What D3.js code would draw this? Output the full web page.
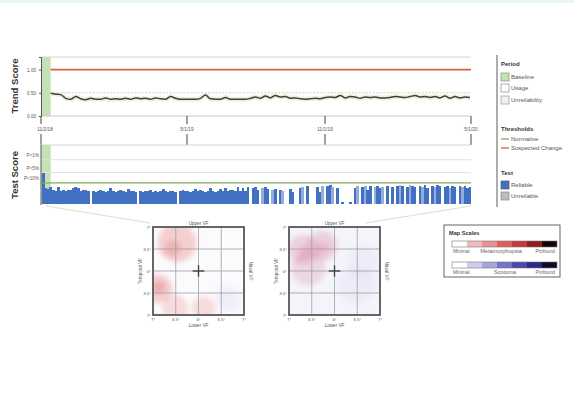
<!DOCTYPE html>
<html>
<head>
<meta charset="utf-8">
<script src="https://cdn.jsdelivr.net/npm/d3@7"></script>
<style>
body{margin:0;background:#fff;}
svg{display:block;font-family:Arial,"Liberation Sans",sans-serif;}
</style>
</head>
<body>
<svg id="chart" width="574" height="413"></svg>
<script>
// ---- data ----
const dateTicks = ["2018-11-02", "2019-05-01", "2019-11-01", "2020-05-01"];
const dateLabels = ["11/2/18", "5/1/19", "11/1/19", "5/1/20"];
const baselinePeriod = ["2018-11-02", "2018-11-14"];

const trendTicks = [0, 0.5, 1];
const trendTickLabels = ["0.00", "0.50", "1.00"];
const suspectedChange = 1.0;
const normativeTrend = 0.5;
const trendValues = [
  0.49, 0.47, 0.46, 0.38, 0.36, 0.42, 0.37, 0.35, 0.38, 0.36,
  0.36, 0.39, 0.36, 0.37, 0.36, 0.38, 0.36, 0.39, 0.37, 0.38,
  0.36, 0.39, 0.37, 0.36, 0.42, 0.38, 0.36, 0.36, 0.36, 0.36,
  0.38, 0.45, 0.37, 0.36, 0.36, 0.40, 0.36, 0.36, 0.36, 0.36,
  0.38, 0.41, 0.38, 0.43, 0.39, 0.44, 0.41, 0.42, 0.38, 0.39,
  0.37, 0.36, 0.37, 0.38, 0.37, 0.40, 0.41, 0.40, 0.44, 0.39,
  0.42, 0.41, 0.38, 0.41, 0.40, 0.41, 0.39, 0.39, 0.40, 0.42,
  0.41, 0.40, 0.42, 0.44, 0.41, 0.42, 0.40, 0.42, 0.39, 0.43,
  0.38, 0.42, 0.39, 0.41, 0.40
];

const pLevels = ["P<1%", "P<5%", "P<10%"];
const pLevelValues = [2.25, 1.6, 1.07];
const testScores = [
  1.6, 0.8, 0.75, 0.85, 0.7, 0.65, 0.85, 0.65, 0.7, 0.65,
  0.7, 0.7, 0.8, 0.85, 0.8, 0.65, 0.7, 0.7, 0.65, 0,
  0.65, 0.6, 0.65, 0.7, 0.65, 0.6, 0.65, 0.8, 0.65, 0.6,
  0.65, 0.7, 0.65, 0.6, 0.75, 0.65, 0.65, 0.6, 0, 0.65,
  0.6, 0.65, 0.65, 0.7, 0.6, 0.65, 0.6, 0.65, 0.75, 0.65,
  0.6, 0.65, 0.65, 0.6, 0, 0.65, 0.7, 0.65, 0.65, 0.6,
  0.65, 0.75, 0.65, 0.7, 0.65, 0.6, 0.65, 0.8, 0.65, 0.6,
  0.65, 0.75, 0.65, 0.8, 0.65, 0.7, 0.7, 0.65, 0.85, 0.65,
  0.8, 0.65, 0.85, 0, 0.8, 0.85, 0.7, 0, 0.8, 0.85,
  0.75, 0, 0.7, 0.75, 0, 0.7, 0.65, 0, 0, 0.75,
  0.6, 0, 0, 0.8, 0.85, 0, 0.9, 0, 0, 0,
  0.85, 0.6, 0.9, 0, 0.9, 0.95, 0.85, 0, 0.8, 0,
  0.1, 0, 0, 0.1, 0, 0.8, 0.9, 0, 0.85, 0.9,
  0.7, 0.9, 0, 0.85, 0.9, 0.8, 0.85, 0, 0.9, 0,
  0.85, 0, 0.9, 0.95, 0.9, 0, 0.85, 0.95, 0.9, 0.85,
  0, 0.9, 0.85, 0.95, 0.8, 0, 0.9, 0.85, 0.95, 0.9,
  0, 0.85, 0.9, 0.8, 0.9, 0.85, 0, 0.9, 0.85, 0.9,
  0.8, 0.85
];
const lightTests = [88, 92, 96, 104, 112, 116, 126, 129, 133, 136, 143, 147, 152, 157, 163, 168];

const mapTicks = [-7, -3.5, 0, 3.5, 7];
const mapTickLabels = ["7°", "3.5°", "0°", "3.5°", "7°"];
// blobs in degrees of visual field: x, y, radius, kind, strength
const leftEyeBlobs = [
  {x: -3.3, y: 4.5, r: 3.0, kind: "meta", s: 0.30},
  {x: -4.0, y: 3.6, r: 1.3, kind: "meta", s: 0.30},
  {x: -6.3, y: -2.8, r: 2.3, kind: "meta", s: 0.30},
  {x: -6.1, y: -2.6, r: 1.0, kind: "meta", s: 0.35},
  {x: -3.6, y: -5.9, r: 2.0, kind: "meta", s: 0.22},
  {x: 0.8, y: -5.9, r: 1.8, kind: "meta", s: 0.22},
  {x: 4.6, y: -4.5, r: 2.0, kind: "scot", s: 0.09}
];
const rightEyeBlobs = [
  {x: -4.8, y: 3.4, r: 2.3, kind: "both", s: 0.30},
  {x: -1.9, y: 4.0, r: 2.3, kind: "both", s: 0.30},
  {x: -4.0, y: 0.4, r: 2.6, kind: "both", s: 0.25},
  {x: -4.6, y: 3.0, r: 1.0, kind: "both", s: 0.30},
  {x: -1.8, y: 3.6, r: 1.0, kind: "both", s: 0.30},
  {x: 3.5, y: -2.3, r: 2.8, kind: "scot", s: 0.07},
  {x: 4.5, y: 1.5, r: 2.5, kind: "scot", s: 0.05}
];

const metaColors = ["#ffffff", "#f3bcbc", "#ec9090", "#e35f5f", "#c43a3a", "#8e1d1d", "#150606"];
const scotColors = ["#ffffff", "#cfcdee", "#a7a5de", "#7573c8", "#4a48ac", "#2a288a", "#0c0b2a"];
const scaleLabels = [["Minimal", "Metamorphopsia", "Profound"], ["Minimal", "Scotoma", "Profound"]];

// ---- setup ----
const svg = d3.select("#chart");
const parse = d3.timeParse("%Y-%m-%d");
const blue = "#4371c2";

svg.append("rect").attr("width", 574).attr("height", 3).attr("fill", "#e9f4f7");

const xTime = d3.scaleTime()
  .domain(dateTicks.map(parse))
  .range([41, 187, 325, 471]);
const yTrend = d3.scaleLinear().domain([0, 1.27]).range([116, 57]);
const yTest = d3.scaleLinear().domain([0, 3]).range([204, 145]);
const baseX0 = xTime(parse(baselinePeriod[0]));
const baseX1 = xTime(parse(baselinePeriod[1]));

// ---- trend panel ----
const trendG = svg.append("g");
trendG.append("rect")
  .attr("x", baseX0).attr("y", yTrend.range()[1])
  .attr("width", baseX1 - baseX0)
  .attr("height", yTrend.range()[0] - yTrend.range()[1])
  .attr("fill", "#c6e2b5");
trendG.append("line").attr("x1", 41).attr("x2", 471)
  .attr("y1", yTrend.range()[1]).attr("y2", yTrend.range()[1])
  .attr("stroke", "#d4d4d4");
trendG.append("line").attr("x1", 41).attr("x2", 471)
  .attr("y1", yTrend(0)).attr("y2", yTrend(0))
  .attr("stroke", "#c8c8c8");
trendG.append("line").attr("x1", baseX1).attr("x2", 471)
  .attr("y1", yTrend(normativeTrend)).attr("y2", yTrend(normativeTrend))
  .attr("stroke", "#eab0a8").attr("stroke-dasharray", "2,1.5").attr("stroke-width", 0.8);
trendG.append("line").attr("x1", baseX1).attr("x2", 471)
  .attr("y1", yTrend(suspectedChange)).attr("y2", yTrend(suspectedChange))
  .attr("stroke", "#dc5f3e").attr("stroke-width", 1.8);

const xTrend = d3.scalePoint()
  .domain(d3.range(trendValues.length))
  .range([baseX1, 470]);
const trendLine = d3.line().x((d, i) => xTrend(i)).y(d => yTrend(d)).curve(d3.curveMonotoneX);
trendG.append("path").datum(trendValues).attr("d", trendLine)
  .attr("fill", "none").attr("stroke", "#edf1e0").attr("stroke-width", 5);
trendG.append("path").datum(trendValues).attr("d", trendLine)
  .attr("fill", "none").attr("stroke", "#394436").attr("stroke-width", 1.5);

const yAxisTrend = trendG.append("g").attr("transform", "translate(41,0)")
  .call(d3.axisLeft(yTrend).tickValues(trendTicks).tickSize(2)
    .tickFormat((d, i) => trendTickLabels[i]));
yAxisTrend.select(".domain").attr("stroke", "#555");
yAxisTrend.selectAll("text").attr("font-size", 4.6).attr("fill", "#555").attr("font-family", null);
yAxisTrend.selectAll(".tick line").attr("stroke", "#555");

svg.append("text").attr("transform", "translate(18,86) rotate(-90)")
  .attr("text-anchor", "middle").attr("font-size", 9.5).attr("font-weight", "bold")
  .attr("fill", "#333").text("Trend Score");

// ---- date axis between the panels ----
const dateAxis = svg.append("g");
dateTicks.forEach((d, i) => {
  const x = xTime(parse(d));
  dateAxis.append("line").attr("x1", x).attr("x2", x).attr("y1", 116).attr("y2", 124)
    .attr("stroke", "#444").attr("stroke-width", 1);
  dateAxis.append("line").attr("x1", x).attr("x2", x).attr("y1", 134).attr("y2", 145)
    .attr("stroke", "#444").attr("stroke-width", 1);
  dateAxis.append("text").attr("x", i === 0 ? x + 4 : x).attr("y", 131)
    .attr("text-anchor", "middle").attr("font-size", 4.8).attr("fill", "#555")
    .text(dateLabels[i]);
});

// ---- test panel ----
const testG = svg.append("g");
testG.append("rect")
  .attr("x", baseX0).attr("y", yTest.range()[1])
  .attr("width", baseX1 - baseX0)
  .attr("height", yTest.range()[0] - yTest.range()[1])
  .attr("fill", "#c6e2b5");
testG.append("line").attr("x1", 41).attr("x2", 471)
  .attr("y1", yTest.range()[1]).attr("y2", yTest.range()[1]).attr("stroke", "#d4d4d4");
testG.selectAll(".pgrid").data(pLevelValues.slice(0, 2)).enter().append("line")
  .attr("x1", 41).attr("x2", 471).attr("y1", d => yTest(d)).attr("y2", d => yTest(d))
  .attr("stroke", "#e2e2e2");
testG.selectAll(".plab").data(pLevels).enter().append("text")
  .attr("x", 39).attr("y", (d, i) => yTest(pLevelValues[i]) - 3)
  .attr("text-anchor", "end").attr("font-size", 4.6).attr("fill", "#555").text(d => d);

const xBar = d3.scaleBand().domain(d3.range(testScores.length)).range([42, 471]).padding(0);
testG.selectAll(".bar").data(testScores).enter().append("rect")
  .attr("x", (d, i) => xBar(i))
  .attr("width", xBar.bandwidth() + 0.3)
  .attr("y", d => yTest(d))
  .attr("height", d => yTest(0) - yTest(d))
  .attr("shape-rendering", "crispEdges")
  .attr("fill", (d, i) => lightTests.includes(i) ? "#94acdf" : blue);

testG.append("line").attr("x1", 41).attr("x2", 471)
  .attr("y1", yTest(pLevelValues[2])).attr("y2", yTest(pLevelValues[2]))
  .attr("stroke", "#86ab62").attr("stroke-width", 1.3);
testG.append("line").attr("x1", 41).attr("x2", 41).attr("y1", 145).attr("y2", 205)
  .attr("stroke", "#555");

svg.append("text").attr("transform", "translate(18,175) rotate(-90)")
  .attr("text-anchor", "middle").attr("font-size", 9.5).attr("font-weight", "bold")
  .attr("fill", "#333").text("Test Score");

// callout lines towards the maps
svg.append("line").attr("x1", 46).attr("y1", 206).attr("x2", 150).attr("y2", 223)
  .attr("stroke", "#d3e6c4").attr("stroke-width", 1);
svg.append("line").attr("x1", 471).attr("y1", 206).attr("x2", 365).attr("y2", 223)
  .attr("stroke", "#d3e6c4").attr("stroke-width", 1);

// ---- legend ----
const leg = svg.append("g").attr("font-size", 6).attr("fill", "#444");
leg.append("line").attr("x1", 497).attr("x2", 497).attr("y1", 55).attr("y2", 207)
  .attr("stroke", "#8a8a8a").attr("stroke-width", 1.4);
const heads = [["Period", 64], ["Thresholds", 129], ["Test", 173]];
heads.forEach(h => leg.append("text").attr("x", 501).attr("y", h[1] + 2)
  .attr("font-weight", "bold").attr("fill", "#333").text(h[0]));
const swatches = [
  ["Baseline", 77, "#c6e2b5", "#8a8a8a"],
  ["Usage", 88, "#ffffff", "#8a8a8a"],
  ["Unreliability", 100, "#f1f1f1", "#9a9a9a"],
  ["Reliable", 185, blue, "#5a5a5a"],
  ["Unreliable", 196, "#bdbdbd", "#8a8a8a"]
];
swatches.forEach(s => {
  leg.append("rect").attr("x", 501).attr("y", s[1] - 4).attr("width", 8).attr("height", 8)
    .attr("fill", s[2]).attr("stroke", s[3]).attr("stroke-width", 0.7);
  leg.append("text").attr("x", 511).attr("y", s[1] + 2).attr("fill", "#555").text(s[0]);
});
[["Normative", 139, "#86ab62"], ["Suspected Change", 148, "#dc5f3e"]].forEach(s => {
  leg.append("line").attr("x1", 501).attr("x2", 509).attr("y1", s[1]).attr("y2", s[1])
    .attr("stroke", s[2]).attr("stroke-width", 1.3);
  leg.append("text").attr("x", 511).attr("y", s[1] + 2).attr("fill", "#555").text(s[0]);
});

// ---- field maps ----
const blobColor = {meta: "#e66b6b", scot: "#7b78d6", both: "#d97f9c"};
const defs = svg.append("defs");
defs.append("filter").attr("id", "soft").attr("x", "-50%").attr("y", "-50%")
  .attr("width", "200%").attr("height", "200%")
  .append("feGaussianBlur").attr("stdDeviation", 2.6);

function drawMap(id, left, blobs, bg) {
  const xs = d3.scaleLinear().domain([-7, 7]).range([left, left + 91]);
  const ys = d3.scaleLinear().domain([-7, 7]).range([315, 227]);
  const g = svg.append("g");
  defs.append("clipPath").attr("id", id).append("rect")
    .attr("x", xs(-7)).attr("y", ys(7)).attr("width", 91).attr("height", 88);
  g.append("rect").attr("x", xs(-7)).attr("y", ys(7)).attr("width", 91).attr("height", 88)
    .attr("fill", bg);
  g.append("g").attr("clip-path", `url(#${id})`)
    .append("g").attr("filter", "url(#soft)")
    .selectAll("circle").data(blobs).enter().append("circle")
    .attr("cx", d => xs(d.x)).attr("cy", d => ys(d.y))
    .attr("r", d => xs(d.r) - xs(0))
    .attr("fill", d => blobColor[d.kind]).attr("fill-opacity", d => d.s);
  g.selectAll(".vg").data(mapTicks).enter().append("line")
    .attr("x1", d => xs(d)).attr("x2", d => xs(d)).attr("y1", ys(7)).attr("y2", ys(-7))
    .attr("stroke", "#a0a0a0").attr("stroke-width", 0.8);
  g.selectAll(".hg").data(mapTicks).enter().append("line")
    .attr("y1", d => ys(d)).attr("y2", d => ys(d)).attr("x1", xs(-7)).attr("x2", xs(7))
    .attr("stroke", "#a0a0a0").attr("stroke-width", 0.8);
  g.append("rect").attr("x", xs(-7)).attr("y", ys(7)).attr("width", 91).attr("height", 88)
    .attr("fill", "none").attr("stroke", "#5a5a5a").attr("stroke-width", 1.8);
  // centre cross
  g.append("line").attr("x1", xs(-0.9)).attr("x2", xs(0.9)).attr("y1", ys(0)).attr("y2", ys(0))
    .attr("stroke", "#444").attr("stroke-width", 1.4);
  g.append("line").attr("y1", ys(-0.9)).attr("y2", ys(0.9)).attr("x1", xs(0)).attr("x2", xs(0))
    .attr("stroke", "#444").attr("stroke-width", 1.4);
  // tick labels
  g.selectAll(".yl").data(mapTicks).enter().append("text")
    .attr("x", xs(-7) - 2).attr("y", d => ys(d) + 1.6).attr("text-anchor", "end")
    .attr("font-size", 4.4).attr("fill", "#555").text((d, i) => mapTickLabels[i]);
  g.selectAll(".xl").data(mapTicks).enter().append("text")
    .attr("x", d => xs(d)).attr("y", ys(-7) + 5.5).attr("text-anchor", "middle")
    .attr("font-size", 4.4).attr("fill", "#555").text((d, i) => mapTickLabels[i]);
  g.append("text").attr("x", xs(0)).attr("y", ys(7) - 2).attr("text-anchor", "middle")
    .attr("font-size", 4.6).attr("fill", "#555").text("Upper VF");
  g.append("text").attr("x", xs(0)).attr("y", ys(-7) + 11.5).attr("text-anchor", "middle")
    .attr("font-size", 4.6).attr("fill", "#555").text("Lower VF");
  g.append("text").attr("transform", `translate(${xs(-7) - 11},${ys(0)}) rotate(-90)`)
    .attr("text-anchor", "middle").attr("font-size", 4.6).attr("fill", "#555").text("Temporal VF");
  g.append("text").attr("transform", `translate(${xs(7) + 5},${ys(0)}) rotate(90)`)
    .attr("text-anchor", "middle").attr("font-size", 4.6).attr("fill", "#555").text("Nasal VF");
}
drawMap("clipL", 153, leftEyeBlobs, "#fbfbfe");
drawMap("clipR", 289, rightEyeBlobs, "#f4f4fb");

// ---- map scales ----
const ms = svg.append("g");
ms.append("rect").attr("x", 444).attr("y", 225).attr("width", 116).attr("height", 52)
  .attr("fill", "#fff").attr("stroke", "#555").attr("stroke-width", 0.9);
ms.append("text").attr("x", 449).attr("y", 235).attr("font-size", 5.6)
  .attr("font-weight", "bold").attr("fill", "#333").text("Map Scales");
const xCell = d3.scaleBand().domain(d3.range(metaColors.length)).range([452, 557]);
[[metaColors, 241], [scotColors, 262]].forEach((row, r) => {
  ms.selectAll(".c" + r).data(row[0]).enter().append("rect")
    .attr("x", (d, i) => xCell(i)).attr("y", row[1])
    .attr("width", xCell.bandwidth()).attr("height", 6)
    .attr("fill", d => d);
  ms.append("rect").attr("x", 452).attr("y", row[1]).attr("width", 105).attr("height", 6)
    .attr("fill", "none").attr("stroke", "#777").attr("stroke-width", 0.6);
  const labs = scaleLabels[r];
  const ly = row[1] + 12;
  ms.append("text").attr("x", 453).attr("y", ly).attr("font-size", 4.8).attr("fill", "#666").text(labs[0]);
  ms.append("text").attr("x", r === 0 ? 501 : 505).attr("y", ly).attr("text-anchor", "middle")
    .attr("font-size", 5.6).attr("fill", "#666").text(labs[1]);
  ms.append("text").attr("x", 555).attr("y", ly).attr("text-anchor", "end")
    .attr("font-size", 4.8).attr("fill", "#666").text(labs[2]);
});
</script>
</body>
</html>
